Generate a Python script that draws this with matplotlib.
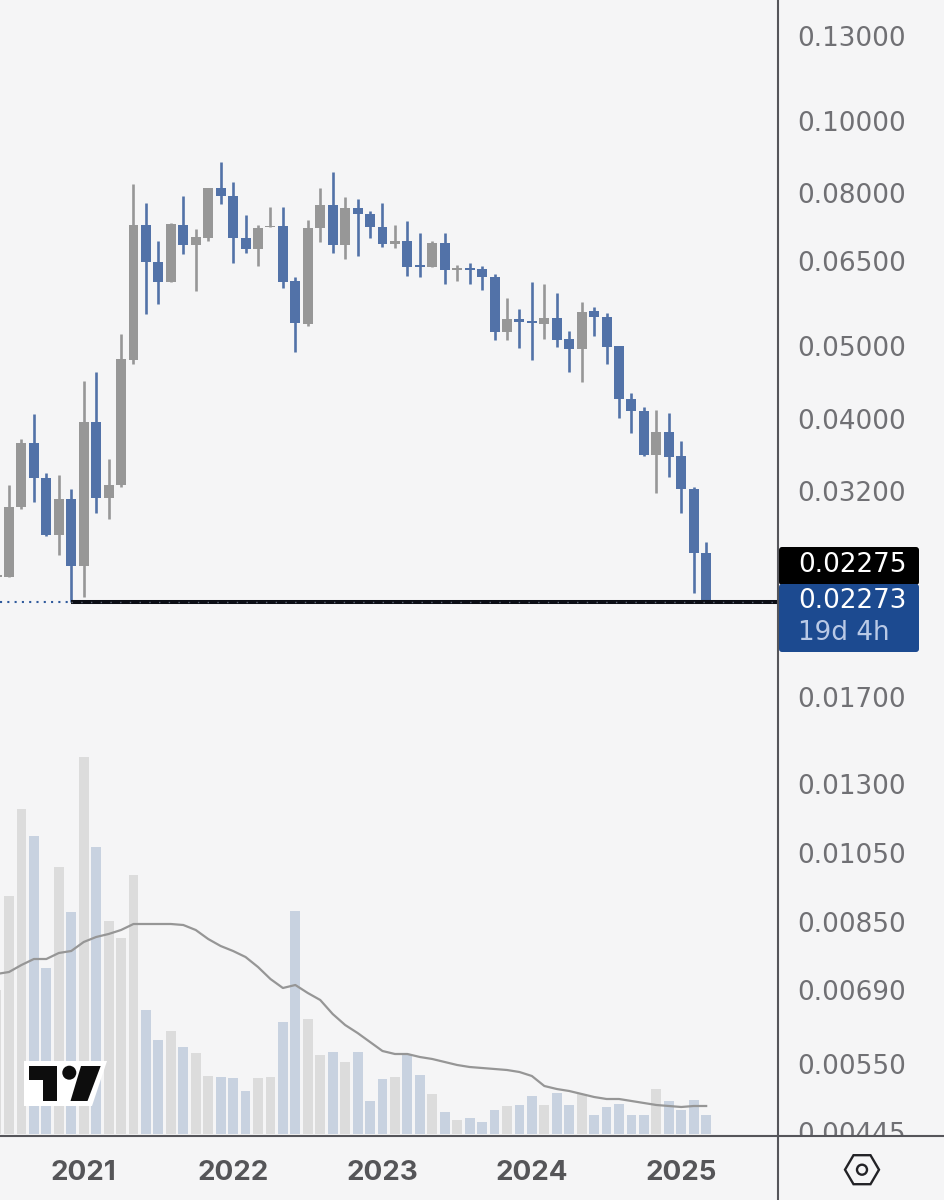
import matplotlib
matplotlib.use('Agg')
import matplotlib.pyplot as plt
import numpy as np
import pandas as pd
from matplotlib.lines import Line2D
from matplotlib.patches import Circle, FancyBboxPatch, Polygon
from matplotlib.transforms import Affine2D, Bbox

# monthly candles, first bar is Jun 2020
months = pd.date_range('2020-06-01', periods=58, freq='MS')

highs = [0.02473, 0.03263, 0.03763, 0.04055, 0.03383, 0.03368, 0.03220, 0.04493, 0.04620, 0.03532,
         0.05188, 0.08238, 0.07763, 0.06913, 0.07313, 0.07946, 0.07180, 0.08130, 0.08815, 0.08289,
         0.07489, 0.07255, 0.07675, 0.07675, 0.06182, 0.07374, 0.08145, 0.08556, 0.07907, 0.07866,
         0.07588, 0.07770, 0.07255, 0.07345, 0.07079, 0.06906, 0.07079, 0.06427, 0.06460, 0.06395,
         0.06251, 0.05806, 0.05613, 0.06099, 0.06051, 0.05885, 0.05236, 0.05735, 0.05647, 0.05534,
         0.05009, 0.04326, 0.04144, 0.04113, 0.04068, 0.03733, 0.03246, 0.02735]
opens = [0.02458, 0.02460, 0.03047, 0.03717, 0.03334, 0.02795, 0.03128, 0.02545, 0.03964, 0.03138,
         0.03260, 0.04793, 0.07255, 0.06486, 0.06093, 0.07269, 0.06828, 0.06983, 0.08130, 0.07946,
         0.06971, 0.06751, 0.07210, 0.07239, 0.06107, 0.05359, 0.07189, 0.07729, 0.06828, 0.07651,
         0.07519, 0.07210, 0.06843, 0.06920, 0.06415, 0.06387, 0.06871, 0.06316, 0.06356, 0.06336,
         0.06193, 0.05229, 0.05433, 0.05409, 0.05350, 0.05459, 0.05109, 0.04958, 0.05573, 0.05471,
         0.04999, 0.04255, 0.04101, 0.03578, 0.03837, 0.03565, 0.03223, 0.02649]
closes = [0.02473, 0.03052, 0.03717, 0.03331, 0.02798, 0.03128, 0.02540, 0.03964, 0.03138, 0.03263,
          0.04804, 0.07255, 0.06486, 0.06093, 0.07278, 0.06828, 0.06992, 0.08130, 0.07946, 0.06971,
          0.06751, 0.07195, 0.07246, 0.06093, 0.05366, 0.07195, 0.07729, 0.06828, 0.07651, 0.07519,
          0.07210, 0.06843, 0.06920, 0.06387, 0.06375, 0.06871, 0.06322, 0.06356, 0.06316, 0.06188,
          0.05229, 0.05433, 0.05393, 0.05376, 0.05459, 0.05102, 0.04958, 0.05556, 0.05466, 0.04993,
          0.04251, 0.04097, 0.03578, 0.03837, 0.03560, 0.03220, 0.02649, 0.02273]
lows = [0.02458, 0.02458, 0.03031, 0.03094, 0.02789, 0.02628, 0.02273, 0.02313, 0.02996, 0.02939,
        0.03246, 0.04730, 0.05522, 0.05700, 0.06093, 0.06648, 0.05933, 0.06920, 0.07746, 0.06455,
        0.06662, 0.06407, 0.07210, 0.05977, 0.04908, 0.05327, 0.06886, 0.06662, 0.06546, 0.06595,
        0.06983, 0.06780, 0.06759, 0.06213, 0.06193, 0.06387, 0.06051, 0.06112, 0.06062, 0.05945,
        0.05102, 0.05102, 0.04978, 0.04789, 0.05118, 0.04993, 0.04624, 0.04479, 0.05156, 0.04730,
        0.04010, 0.03831, 0.03571, 0.03187, 0.03341, 0.02996, 0.02340, 0.02273]

volume = [144, 238, 325, 298, 166, 267, 222, 377, 287, 213,
          196, 259, 124, 94, 103, 87, 81, 58, 57, 56,
          43, 56, 57, 112, 223, 115, 79, 82, 72, 82,
          33, 55, 57, 79, 59, 40, 22, 14, 16, 12,
          24, 28, 29, 38, 29, 41, 29, 40, 19, 27,
          30, 19, 19, 45, 33, 24, 34, 19]
volume_ma = [160, 162, 169, 175, 175, 181, 183, 192, 197, 200,
             204, 210, 210, 210, 210, 209, 204, 195, 188, 183,
             177, 167, 155, 146, 149, 141, 134, 120, 109, 101,
             92, 83, 80, 80, 77, 75, 72, 69, 67, 66,
             65, 64, 62, 58, 48, 45, 43, 40, 37, 35,
             35, 33, 31, 29, 28, 27, 28, 28]

price_ticks = [0.13, 0.10, 0.08, 0.065, 0.05, 0.04, 0.032, 0.017, 0.013, 0.0105, 0.0085, 0.0069, 0.0055, 0.00445]
support_price = 0.02273

BG = '#f5f5f6'
UP = '#979797'
DOWN = '#5272a8'
VOL_UP = '#dcdcdc'
VOL_DOWN = '#c8d2e0'
LINE = '#55555a'

W, H = 945, 1200
AX_R, AX_B = 777.5, 1136
XLIM = (0.277, 62.73)

fig = plt.figure(figsize=(W / 100, H / 100), dpi=100, facecolor=BG)
rect = [0, (H - AX_B) / H, AX_R / W, AX_B / H]
ax_vol = fig.add_axes(rect, facecolor=BG, zorder=1)
ax = fig.add_axes(rect, facecolor='none', zorder=2)

x = np.arange(len(months))
opens_a = np.array(opens)
closes_a = np.array(closes)
is_up = closes_a >= opens_a

# volume pane, no scale of its own
ax_vol.bar(x, volume, width=0.79, color=[VOL_UP if u else VOL_DOWN for u in is_up])
ax_vol.plot(x, volume_ma, color='#969696', lw=1.6)
ax_vol.set_xlim(*XLIM)
ax_vol.set_ylim(-2, 1134)
ax_vol.axis('off')

# candles
colors = [UP if u else DOWN for u in is_up]
ax.vlines(x, lows, highs, colors=colors, lw=1.9)
ax.bar(x, np.abs(closes_a - opens_a), bottom=np.minimum(opens_a, closes_a), width=0.8, color=colors)

ax.set_yscale('log')
ax.set_ylim(0.004401, 0.1451)
ax.set_xlim(*XLIM)

# level line: dotted back to the left edge, solid from the Dec 2020 low
first = months.get_loc(pd.Timestamp('2020-12-01'))
ax.hlines(support_price, XLIM[0], first, colors='#2f5a9c', lw=1.5, linestyles=(0, (1, 2.5)))
ax.hlines(support_price, first, XLIM[1], colors='#0b0d14', lw=2.9, zorder=5)
ax.hlines(support_price, first, XLIM[1], colors='#5d6675', lw=1.0, linestyles=(0, (1, 6)), zorder=6)

for s in ax.spines.values():
    s.set_visible(False)

jan = [i for i, m in enumerate(months) if m.month == 1]
ax.set_xticks(jan)
ax.set_xticklabels([str(months[i].year) for i in jan], fontfamily='Inter', fontweight='bold',
                   fontsize=20, color='#555558')
ax.tick_params(axis='x', length=0, pad=17)

ax.yaxis.tick_right()
ax.set_yticks(price_ticks)
ax.set_yticks([], minor=True)
ax.set_yticklabels(['%.5f' % p for p in price_ticks], fontfamily='DejaVu Sans', fontsize=18.9, color='#707074',
                   va='center_baseline')
ax.tick_params(axis='y', length=0, pad=14.5)
for lab in ax.get_yticklabels():
    lab.set_clip_on(True)
    lab.set_clip_box(Bbox([[0, H - AX_B], [W, H]]))

# page furniture placed in pixels from the top left
px = Affine2D().scale(1, -1).translate(0, H)

fig.add_artist(Line2D([0, W], [AX_B, AX_B], color=LINE, lw=1.5, transform=px, zorder=8))
fig.add_artist(Line2D([AX_R, AX_R], [0, H], color=LINE, lw=1.5, transform=px, zorder=8))

for (y0, y1, col) in [(547, 585, '#000000'), (584, 652, '#1c4a90')]:
    fig.add_artist(FancyBboxPatch((782, y0 + 3), 134, y1 - y0 - 6, boxstyle='round,pad=3,rounding_size=3',
                                  fc=col, ec='none', transform=px, zorder=7))
for (y, txt, col) in [(565.5, '0.02275', 'white'), (601, '0.02273', 'white'), (633, '19d 4h', '#b9c9e6')]:
    fig.text(798 / W, 1 - y / H, txt, color=col, fontfamily='DejaVu Sans', fontsize=18.9, va='center', ha='left', zorder=9)

# tradingview mark
fig.add_artist(Polygon([(24, 1061), (107, 1061), (92, 1106), (24, 1106)], closed=True, fc='white', ec='none',
                       transform=px, zorder=4))
fig.add_artist(Polygon([(28.7, 1066), (57.3, 1066), (57.3, 1101), (43.3, 1101), (43.3, 1080), (28.7, 1080)],
                       closed=True, fc='#0d0d0d', ec='none', transform=px, zorder=5))
fig.add_artist(Polygon([(81, 1066), (100.7, 1066), (87.5, 1101), (70.5, 1101)], closed=True, fc='#0d0d0d',
                       ec='none', transform=px, zorder=5))
fig.add_artist(Circle((69.3, 1072.7), 7, fc='#0d0d0d', ec='none', transform=px, zorder=5))

# settings hexagon
cx, cy = 862, 1169.7
hexa = [(cx - 17, cy), (cx - 8.5, cy - 14.5), (cx + 8.5, cy - 14.5), (cx + 17, cy), (cx + 8.5, cy + 14.5), (cx - 8.5, cy + 14.5)]
fig.add_artist(Polygon(hexa, closed=True, fc='none', ec='#222226', lw=1.7, transform=px, zorder=5))
fig.add_artist(Circle((cx, cy), 5, fc='none', ec='#222226', lw=1.7, transform=px, zorder=5))

fig.savefig('out.png', dpi=100, facecolor=BG)
